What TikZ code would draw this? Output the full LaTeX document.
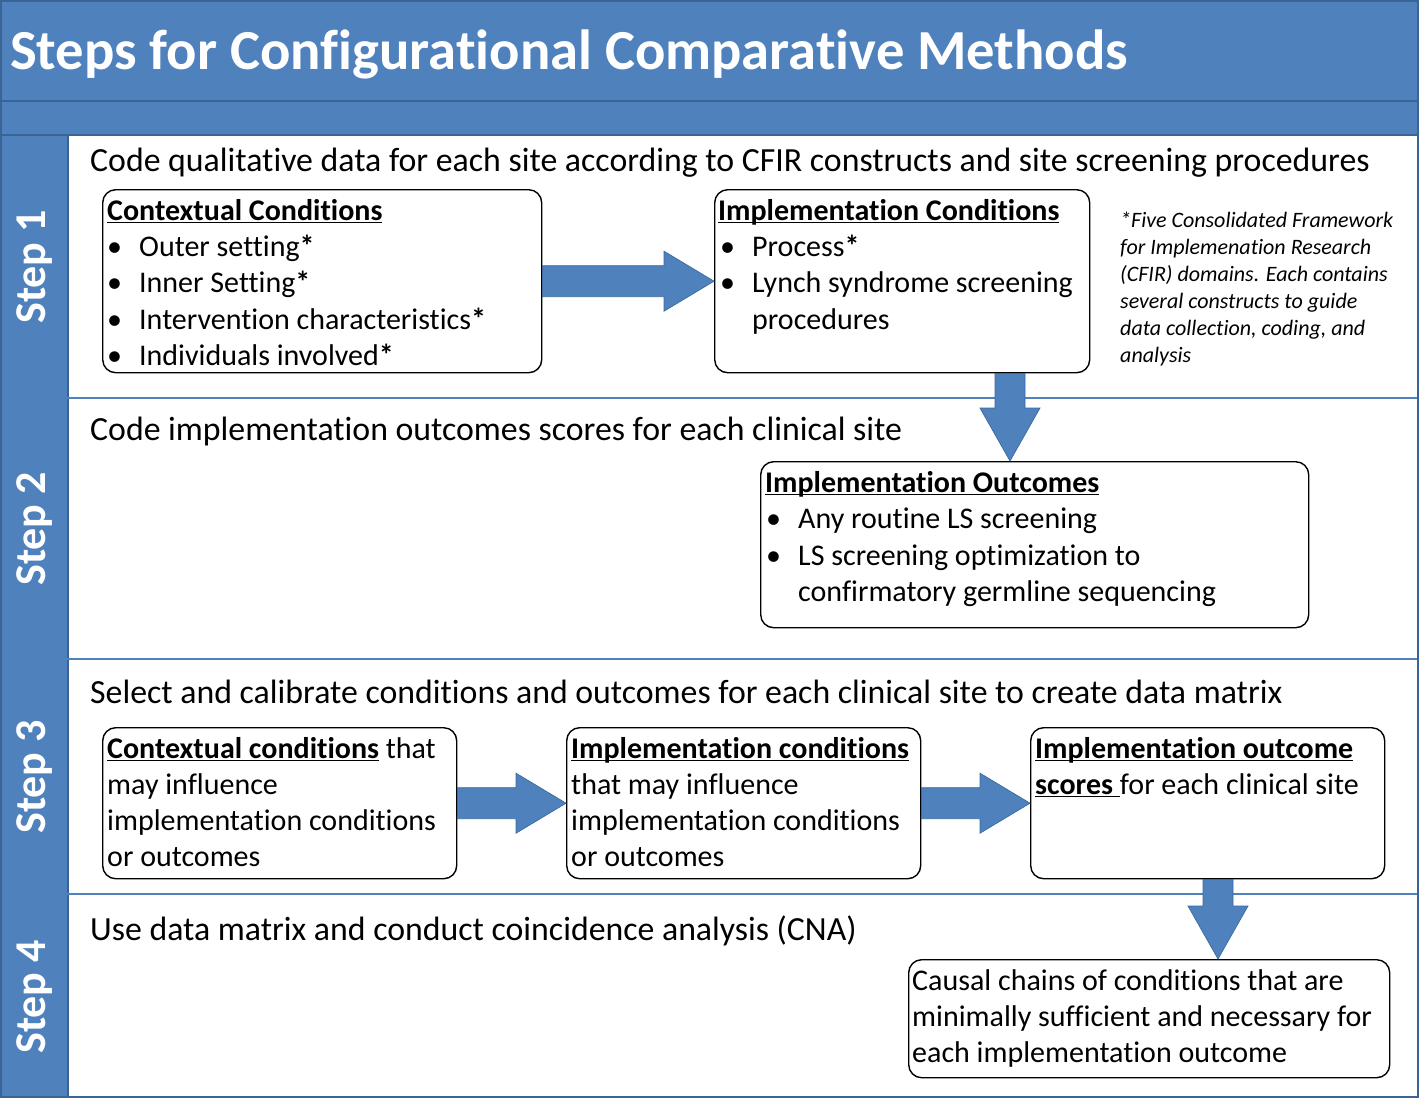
\documentclass[tikz,border=0pt]{standalone}
\usepackage{fontspec}
\setmainfont{Carlito}[Ligatures=NoCommon]
\usetikzlibrary{calc}
\definecolor{hblue}{RGB}{79,129,189}
\definecolor{dblue}{RGB}{58,100,150}
\definecolor{lblue}{RGB}{79,129,189}
\definecolor{aedge}{RGB}{60,106,158}
\newcommand\uln[1]{\setbox0\hbox{#1}\rlap{\rule[-3.2pt]{\wd0}{1.6pt}}\box0}
\newcommand\bul{\makebox[33pt][l]{\hspace{1pt}•}}
\newcommand\stardom{\textbf{*}}
\newcommand\hblock[2]{\filldraw[fill=hblue, draw=aedge, line width=0.7pt]
  ($(#1)+(0,-15.5)$) -- ($(#2)+(-50,-15.5)$) -- ($(#2)+(-50,-30)$) -- (#2) --
  ($(#2)+(-50,30)$) -- ($(#2)+(-50,15.5)$) -- ($(#1)+(0,15.5)$) -- cycle;}
\newcommand\vblock[2]{\filldraw[fill=hblue, draw=aedge, line width=0.7pt]
  ($(#1)+(-15,0)$) -- ($(#2)+(-15,-53)$) -- ($(#2)+(-30,-53)$) -- (#2) --
  ($(#2)+(30,-53)$) -- ($(#2)+(15,-53)$) -- ($(#1)+(15,0)$) -- cycle;}
\begin{document}
\begin{tikzpicture}[x=1pt,y=-1pt,
  txt/.style={inner sep=0pt, anchor=base west, font=\fontsize{30}{36}\selectfont},
  headtxt/.style={inner sep=0pt, anchor=base west, font=\fontsize{33.8}{40}\selectfont},
  notetxt/.style={inner sep=0pt, anchor=base west, font=\fontsize{22}{27}\selectfont\itshape},
  boxnode/.style={draw=black, line width=1.4pt, rounded corners=13pt, inner sep=0pt, anchor=north west, fill=white},
  steplbl/.style={rotate=90, text=white, font=\fontsize{44}{50}\selectfont\bfseries, inner sep=0pt},
  sepline/.style={draw=lblue, line width=2pt},
  darkline/.style={draw=dblue, line width=2pt},
]
\useasboundingbox (0,0) rectangle (1419,1098);
% background
\fill[hblue] (0,0) rectangle (1419,1098);
\fill[white] (68,136) rectangle (1419,1098);
\draw[darkline] (0,101) -- (1419,101);
\draw[darkline] (0,135) -- (1419,135);
\draw[darkline] (68,136) -- (68,1098);
\draw[sepline] (0,398) -- (1419,398);
\draw[sepline] (0,659) -- (1419,659);
\draw[sepline] (0,894) -- (1419,894);
\draw[darkline] (1,1) rectangle (1418,1097);

% title
\node[inner sep=0pt, anchor=base west, text=white, font=\fontsize{56.6}{60}\selectfont\bfseries] (title) at (10,69) {Steps for Configurational Comparative Methods};

% step labels
\node[steplbl] (s1) at (35,267) {Step 1};
\node[steplbl] (s2) at (35,529) {Step 2};
\node[steplbl] (s3) at (35,777) {Step 3};
\node[steplbl] (s4) at (35,997) {Step 4};

% ---------- Step 1
\node[headtxt] (h1) at (90,171) {Code qualitative data for each site according to CFIR constructs and site screening procedures};
\node[boxnode, minimum width=439pt, minimum height=183pt] (boxA) at (102,189) {};
\node[txt] (a0) at (107,220) {\textbf{\uln{Contextual Conditions}}};
\node[txt] (a1) at (106,256) {\bul Outer setting\stardom};
\node[txt] (a2) at (106,292) {\bul Inner Setting\stardom};
\node[txt] (a3) at (106,329) {\bul Intervention characteristics\stardom};
\node[txt] (a4) at (106,365) {\bul Individuals involved\stardom};

\node[boxnode, minimum width=375pt, minimum height=183pt] (boxB) at (714,189) {};
\node[txt] (b0) at (718,220) {\textbf{\uln{Implementation Conditions}}};
\node[txt] (b1) at (719,256) {\bul Process\stardom};
\node[txt] (b2) at (719,292) {\bul Lynch syndrome screening};
\node[txt] (b3) at (752,329) {procedures};

\node[notetxt] (n1) at (1120,227) {*Five Consolidated Framework};
\node[notetxt] (n2) at (1120,254) {for Implemenation Research};
\node[notetxt] (n3) at (1120,281) {(CFIR) domains. Each contains};
\node[notetxt] (n4) at (1120,308) {several constructs to guide};
\node[notetxt] (n5) at (1120,335) {data collection, coding, and};
\node[notetxt] (n6) at (1120,362) {analysis};

% ---------- Step 2
\node[headtxt] (h2) at (90,440) {Code implementation outcomes scores for each clinical site};
\node[boxnode, minimum width=548pt, minimum height=166pt] (boxC) at (760,461) {};
\node[txt] (c0) at (765,492) {\textbf{\uln{Implementation Outcomes}}};
\node[txt] (c1) at (765,528) {\bul Any routine LS screening};
\node[txt] (c2) at (765,565) {\bul LS screening optimization to};
\node[txt] (c3) at (798,601) {confirmatory germline sequencing};

% ---------- Step 3
\node[headtxt] (h3) at (90,703) {Select and calibrate conditions and outcomes for each clinical site to create data matrix};
\node[boxnode, minimum width=354pt, minimum height=151pt] (boxD) at (102,727) {};
\node[txt] (d0) at (107,758) {\textbf{\uln{Contextual conditions}} that};
\node[txt] (d1) at (107,794) {may influence};
\node[txt] (d2) at (107,830) {implementation conditions};
\node[txt] (d3) at (107,866) {or outcomes};

\node[boxnode, minimum width=354pt, minimum height=151pt] (boxE) at (566,727) {};
\node[txt] (e0) at (571,758) {\textbf{\uln{Implementation conditions}}};
\node[txt] (e1) at (571,794) {that may influence};
\node[txt] (e2) at (571,830) {implementation conditions};
\node[txt] (e3) at (571,866) {or outcomes};

\node[boxnode, minimum width=354pt, minimum height=151pt] (boxF) at (1030,727) {};
\node[txt] (f0) at (1035,758) {\textbf{\uln{Implementation outcome}}};
\node[txt] (f1) at (1035,794) {\textbf{\uln{scores\ }}for each clinical site};

% ---------- Step 4
\node[headtxt] (h4) at (90,940) {Use data matrix and conduct coincidence analysis (CNA)};
\node[boxnode, minimum width=481pt, minimum height=118pt] (boxG) at (908,959) {};
\node[txt] (g0) at (912,990) {Causal chains of conditions that are};
\node[txt] (g1) at (912,1026) {minimally sufficient and necessary for};
\node[txt] (g2) at (912,1062) {each implementation outcome};

% ---------- block arrows
\hblock{boxA.east}{boxB.west}
\hblock{boxD.east}{boxE.west}
\hblock{boxE.east}{boxF.west}
\coordinate (bc1) at ($(boxB.south west)+(296,0)$);
\coordinate (bc2) at (bc1 |- boxC.north);
\vblock{bc1}{bc2}
\coordinate (fg1) at ($(boxF.south west)+(188,0)$);
\coordinate (fg2) at (fg1 |- boxG.north);
\vblock{fg1}{fg2}
\end{tikzpicture}
\end{document}
